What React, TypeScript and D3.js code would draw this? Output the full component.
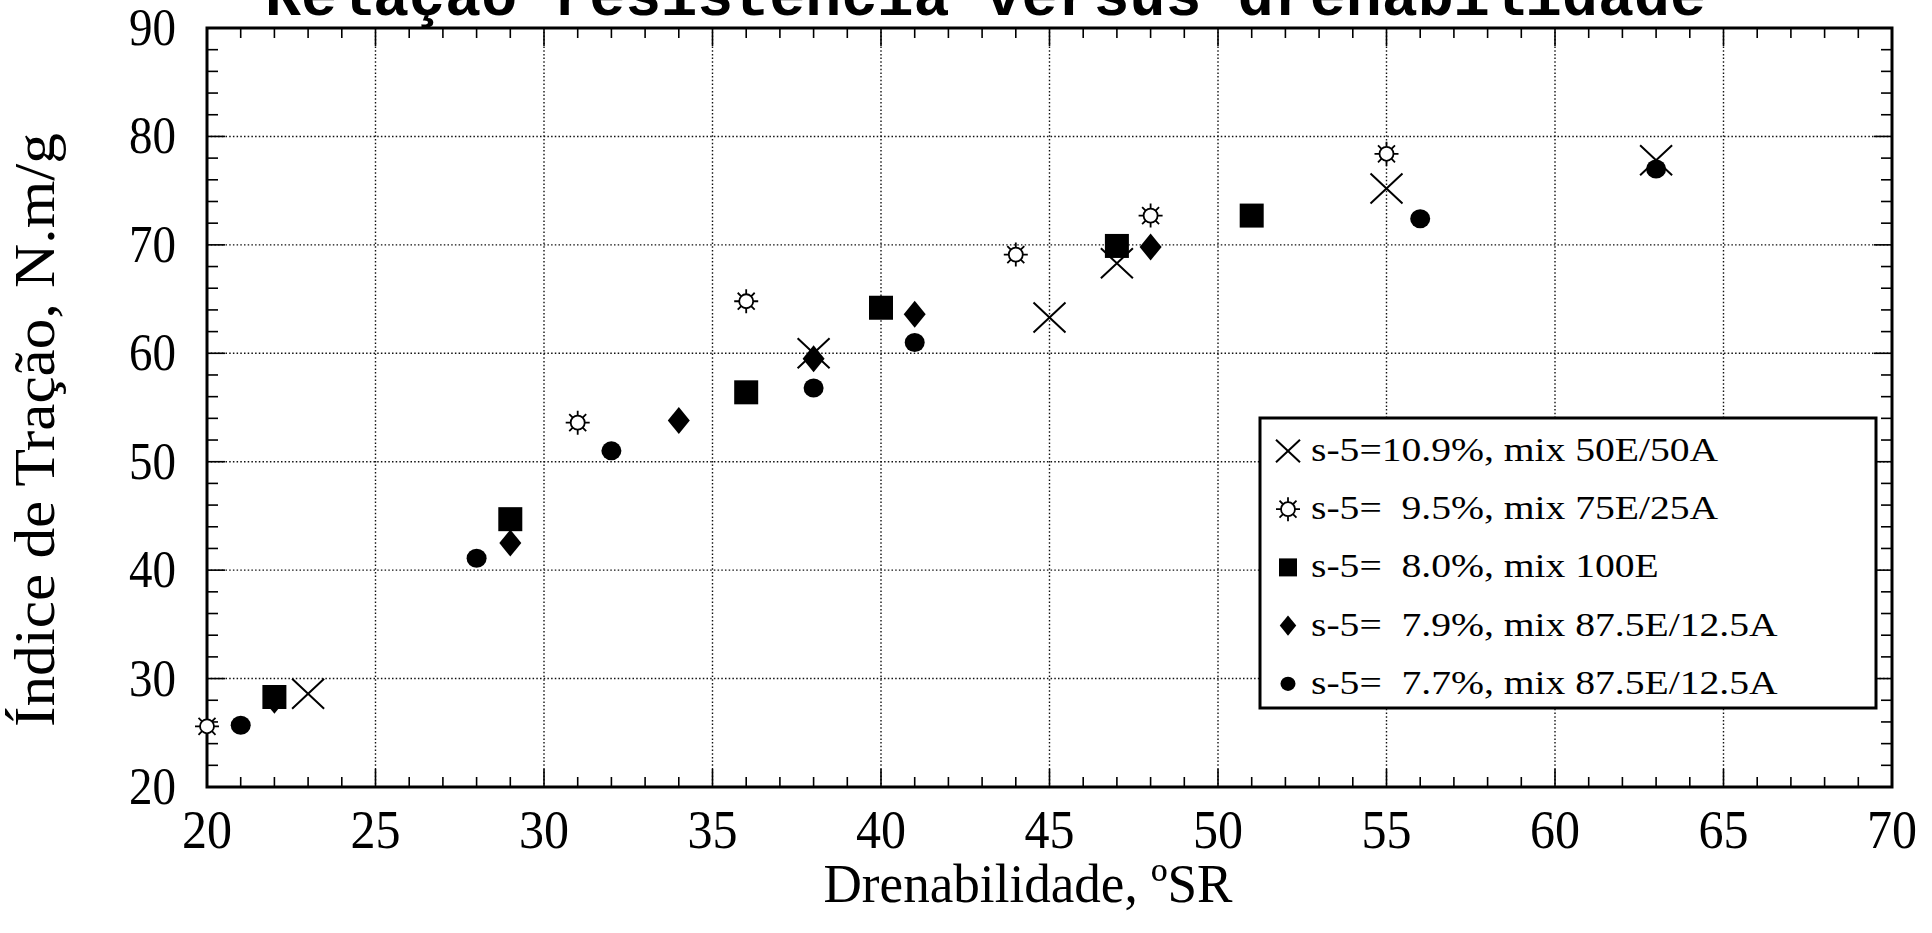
import React from "react";
import * as d3 from "d3";

// freeness (ºSR) and tensile index (N.m/g) for each pulp mix
const drain50E = [23, 38, 45, 47, 55, 63];
const tensile50E = [28.6, 60.0, 63.3, 68.3, 75.2, 77.8];

const drain75E = [20, 31, 36, 44, 48, 55];
const tensile75E = [25.6, 53.6, 64.8, 69.1, 72.7, 78.4];

const drain100E = [22, 29, 36, 40, 47, 51];
const tensile100E = [28.3, 44.7, 56.4, 64.2, 69.9, 72.7];

const drain87a = [22, 29, 34, 38, 41, 48];
const tensile87a = [28.0, 42.5, 53.8, 59.5, 63.6, 69.8];

const drain87b = [21, 28, 32, 38, 41, 56, 63];
const tensile87b = [25.7, 41.1, 51.0, 56.8, 61.0, 72.4, 77.0];

const legendLabels = [
  "s-5=10.9%, mix 50E/50A",
  "s-5=  9.5%, mix 75E/25A",
  "s-5=  8.0%, mix 100E",
  "s-5=  7.9%, mix 87.5E/12.5A",
  "s-5=  7.7%, mix 87.5E/12.5A",
];
const markerKinds = ["x", "star", "square", "diamond", "circle"];

const xTickValues = [20, 25, 30, 35, 40, 45, 50, 55, 60, 65, 70];
const yTickValues = [20, 30, 40, 50, 60, 70, 80, 90];

const titleText = "Relação resistência versus drenabilidade";
const xLabel = "Drenabilidade, ºSR";
const yLabel = "Índice de Tração, N.m/g";

const W = 1932;
const H = 933;
const FONT = "'Liberation Serif', 'Times New Roman', serif";

function drawMarker(g: any, kind: string, cx: number, cy: number, s = 1) {
  if (kind === "x") {
    const a = 16 * s, b = 15 * s;
    g.append("path")
      .attr("d", `M${cx - a},${cy - b}L${cx + a},${cy + b}M${cx - a},${cy + b}L${cx + a},${cy - b}`)
      .attr("stroke", "#000").attr("stroke-width", 2).attr("fill", "none");
  } else if (kind === "star") {
    const p = d3.path();
    for (let k = 0; k < 8; k++) {
      const ang = (k * Math.PI) / 4;
      p.moveTo(cx + 7 * Math.cos(ang), cy + 7 * Math.sin(ang));
      p.lineTo(cx + 12 * Math.cos(ang), cy + 12 * Math.sin(ang));
    }
    g.append("path").attr("d", p.toString()).attr("stroke", "#000").attr("stroke-width", 1.8);
    g.append("circle").attr("cx", cx).attr("cy", cy).attr("r", 7)
      .attr("fill", "#fff").attr("stroke", "#000").attr("stroke-width", 1.8);
  } else if (kind === "square") {
    const h = 12 * s;
    g.append("rect").attr("x", cx - h).attr("y", cy - h).attr("width", 2 * h).attr("height", 2 * h).attr("fill", "#000");
  } else if (kind === "diamond") {
    const a = 11 * s, b = 13.5 * s;
    g.append("path").attr("d", `M${cx},${cy - b}L${cx + a},${cy}L${cx},${cy + b}L${cx - a},${cy}Z`).attr("fill", "#000");
  } else {
    g.append("ellipse").attr("cx", cx).attr("cy", cy).attr("rx", 10 * s).attr("ry", 9.5 * s).attr("fill", "#000");
  }
}

const Chart = () => {
  const svgRef = React.useRef<SVGSVGElement>(null);

  React.useEffect(() => {
    const left = 207, right = 1892, top = 28, bottom = 787;
    const x = d3.scaleLinear().domain([20, 70]).range([left, right]);
    const y = d3.scaleLinear().domain([20, 90]).range([bottom, top]);

    const svg = d3.select(svgRef.current);
    svg.selectAll("*").remove();
    svg.append("rect").attr("width", W).attr("height", H).attr("fill", "#fff");

    // title, cut off at the top of the page
    svg.append("text")
      .attr("x", 265).attr("y", 15)
      .attr("font-family", "'Liberation Mono', 'Courier New', monospace")
      .attr("font-weight", "bold").attr("font-size", 62)
      .attr("textLength", 1441).attr("lengthAdjust", "spacingAndGlyphs")
      .text(titleText);

    // dotted grid
    const grid = svg.append("g").attr("stroke", "#111").attr("stroke-width", 1.4).attr("stroke-dasharray", "1.5,2.2");
    d3.range(25, 70, 5).forEach((v) => {
      grid.append("line").attr("x1", x(v)).attr("x2", x(v)).attr("y1", top).attr("y2", bottom);
    });
    d3.range(30, 90, 10).forEach((v) => {
      grid.append("line").attr("x1", left).attr("x2", right).attr("y1", y(v)).attr("y2", y(v));
    });

    // ticks on all four sides, pointing inward
    const ticks = svg.append("g").attr("stroke", "#000").attr("stroke-width", 1.6);
    d3.range(20, 71, 1).forEach((v) => {
      const len = v % 5 === 0 ? 18 : 10;
      ticks.append("line").attr("x1", x(v)).attr("x2", x(v)).attr("y1", bottom).attr("y2", bottom - len);
      ticks.append("line").attr("x1", x(v)).attr("x2", x(v)).attr("y1", top).attr("y2", top + len);
    });
    d3.range(20, 91, 2).forEach((v) => {
      const len = v % 10 === 0 ? 18 : 11;
      ticks.append("line").attr("x1", left).attr("x2", left + len).attr("y1", y(v)).attr("y2", y(v));
      ticks.append("line").attr("x1", right).attr("x2", right - len).attr("y1", y(v)).attr("y2", y(v));
    });

    svg.append("rect")
      .attr("x", left).attr("y", top).attr("width", right - left).attr("height", bottom - top)
      .attr("fill", "none").attr("stroke", "#000").attr("stroke-width", 3);

    // tick labels
    svg.append("g").selectAll("text").data(xTickValues).enter().append("text")
      .attr("x", (d) => x(d)).attr("y", 848)
      .attr("text-anchor", "middle").attr("font-family", FONT).attr("font-size", 55)
      .attr("textLength", 50).attr("lengthAdjust", "spacingAndGlyphs")
      .text((d) => d);
    svg.append("g").selectAll("text").data(yTickValues).enter().append("text")
      .attr("x", 176).attr("y", (d) => y(d) + 17)
      .attr("text-anchor", "end").attr("font-family", FONT).attr("font-size", 53)
      .attr("textLength", 47).attr("lengthAdjust", "spacingAndGlyphs")
      .text((d) => d);

    // axis titles
    svg.append("text")
      .attr("x", 1028).attr("y", 902).attr("text-anchor", "middle")
      .attr("font-family", FONT).attr("font-size", 55)
      .attr("textLength", 409).attr("lengthAdjust", "spacingAndGlyphs")
      .text(xLabel);
    svg.append("text")
      .attr("transform", "translate(54,430) rotate(-90)").attr("text-anchor", "middle")
      .attr("font-family", FONT).attr("font-size", 58)
      .attr("textLength", 594).attr("lengthAdjust", "spacingAndGlyphs")
      .text(yLabel);

    // points
    const pts = svg.append("g");
    const series = [
      { kind: "x", xs: drain50E, ys: tensile50E },
      { kind: "star", xs: drain75E, ys: tensile75E },
      { kind: "diamond", xs: drain87a, ys: tensile87a },
      { kind: "square", xs: drain100E, ys: tensile100E },
      { kind: "circle", xs: drain87b, ys: tensile87b },
    ];
    series.forEach((s) => {
      s.xs.forEach((v, i) => drawMarker(pts, s.kind, x(v), y(s.ys[i])));
    });

    // legend
    const lg = svg.append("g");
    lg.append("rect").attr("x", 1260).attr("y", 418).attr("width", 616).attr("height", 290)
      .attr("fill", "#fff").attr("stroke", "#000").attr("stroke-width", 3);
    legendLabels.forEach((label, i) => {
      const base = 461 + i * 58.2;
      drawMarker(lg, markerKinds[i], 1288, base - 10, 0.75);
      lg.append("text")
        .attr("transform", `translate(1311,${base}) scale(1.2,1)`)
        .attr("font-family", FONT).attr("font-size", 33)
        .style("white-space", "pre")
        .text(label);
    });
  }, []);

  return <svg ref={svgRef} width={W} height={H} style={{ position: "absolute", left: 0, top: 0, display: "block" }} />;
};

export default function App() {
  return <Chart />;
}
